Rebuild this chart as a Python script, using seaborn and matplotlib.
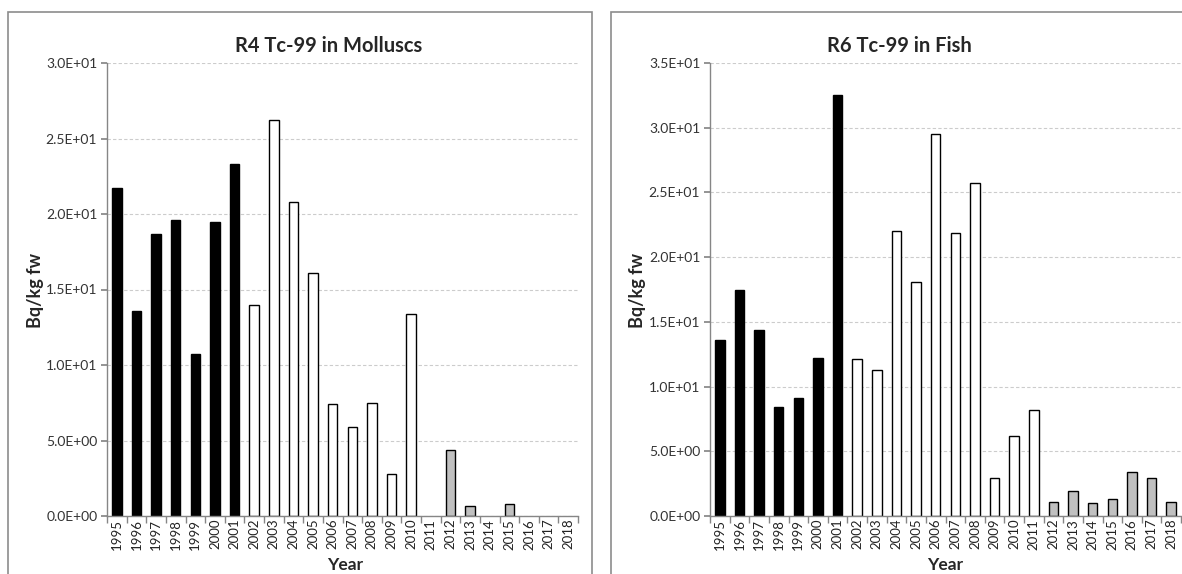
import numpy as np
import pandas as pd
import matplotlib
matplotlib.use("Agg")
import matplotlib.pyplot as plt
import seaborn as sns
from matplotlib.patches import Rectangle
from matplotlib.ticker import FuncFormatter, MultipleLocator

years = [str(y) for y in range(1995, 2019)]
molluscs = [21.7, 13.6, 18.7, 19.6, 10.7, 19.5, 23.3, 14.0, 26.2, 20.8, 16.1, 7.4,
            5.9, 7.5, 2.8, 13.4, np.nan, 4.35, 0.65, np.nan, 0.8, np.nan, np.nan, np.nan]
fish = [13.6, 17.5, 14.4, 8.4, 9.1, 12.2, 32.5, 12.1, 11.3, 22.0, 18.1, 29.5,
        21.9, 25.7, 2.9, 6.2, 8.2, 1.1, 1.9, 1.0, 1.3, 3.4, 2.9, 1.05]
period_colors = ["black"] * 7 + ["white"] * 10 + ["#c0c0c0"] * 7

titles = ["R4 Tc-99 in Molluscs", "R6 Tc-99 in Fish"]
ymax = [30, 35]

sns.set_theme(style="white")
plt.rcParams['font.family'] = ['Lato', 'DejaVu Sans']

W, H = 1182, 574
fig = plt.figure(figsize=(W / 100, H / 100), dpi=100)

# panel borders
for (x0, x1) in [(8, 592), (611, 1200)]:
    fig.add_artist(Rectangle((x0 / W, -0.1), (x1 - x0) / W, 1.1 - 12 / H,
                             transform=fig.transFigure, fill=False,
                             edgecolor="#8c8c8c", linewidth=1.2))

axes_px = [(107, 578), (710, 1181)]
title_x = [0.471, 0.403]
ylab_x = [35, 638]
xlab_x = [345, 945]
grey = "#868686"

for i, vals in enumerate([molluscs, fish]):
    x0, x1 = axes_px[i]
    ax = fig.add_axes([x0 / W, 1 - 516 / H, (x1 - x0) / W, (516 - 63) / H])
    df = pd.DataFrame({"Year": years, "Value": vals})
    pal = dict(zip(years, period_colors))
    sns.barplot(data=df, x="Year", y="Value", hue="Year", order=years,
                palette=pal, legend=False, width=0.48, edgecolor="black",
                linewidth=1.0, ax=ax, saturation=1)
    ax.set_xlim(-0.5, len(years) - 0.5)
    ax.set_ylim(0, ymax[i])
    ax.yaxis.set_major_locator(MultipleLocator(5))
    ax.yaxis.set_major_formatter(FuncFormatter(lambda v, p: f"{v:.1E}"))
    ax.grid(axis="y", color="#cccccc", linestyle=(0, (3, 2)), linewidth=0.8)
    ax.set_axisbelow(True)
    for s in ["top", "right"]:
        ax.spines[s].set_visible(False)
    for s in ["left", "bottom"]:
        ax.spines[s].set_color(grey)
        ax.spines[s].set_linewidth(1.0)
    ax.tick_params(axis="y", which="major", left=True, length=4, color=grey,
                   labelsize=10, labelcolor="#333333", pad=3)
    ax.set_xticks(range(len(years)))
    ax.set_xticklabels(years, rotation=90, fontsize=9.5, color="#222222")
    ax.tick_params(axis="x", which="major", bottom=True, length=0, pad=2)
    ax.set_xticks(np.arange(-0.5, len(years), 1.0), minor=True)
    ax.tick_params(axis="x", which="minor", bottom=True, length=5, color=grey)
    ax.set_xlabel("")
    ax.set_ylabel("")
    fig.text(xlab_x[i] / W, 1 - 565 / H, "Year", fontsize=12.5,
             fontweight="bold", ha="center", va="center")
    fig.text(ylab_x[i] / W, 1 - 290 / H, "Bq/kg fw", rotation=90, fontsize=13,
             fontweight="bold", ha="center", va="center")
    ax.set_title(titles[i], fontsize=14.5, fontweight="bold", x=title_x[i], pad=8)

fig.savefig("out.png", dpi=100)
